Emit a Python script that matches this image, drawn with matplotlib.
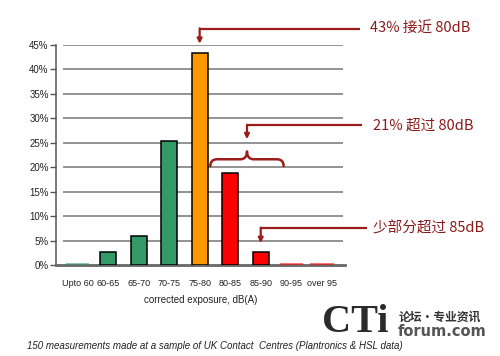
import matplotlib.pyplot as plt
from matplotlib.path import Path
from matplotlib.patches import PathPatch

# --- data ---
categories = ['Upto 60', '60-65', '65-70', '70-75', '75-80',
              '80-85', '85-90', '90-95', 'over 95']
share_pct = [0.5, 2.7, 6.0, 25.3, 43.3, 18.7, 2.7, 0.5, 0.5]
bar_colors = ['#339966', '#339966', '#339966', '#339966', '#FF9900',
              '#FF0000', '#FF0000', '#FF0000', '#FF0000']
y_ticks = [0, 5, 10, 15, 20, 25, 30, 35, 40, 45]
y_tick_labels = [f'{t}%' for t in y_ticks]

note_1 = '43% 接近 80dB'
note_2 = '21% 超过 80dB'
note_3 = '少部分超过 85dB'
x_title = 'corrected exposure, dB(A)'
footnote = '150 measurements made at a sample of UK Contact  Centres (Plantronics & HSL data)'

RED = '#9c1c1c'
TXT_RED = '#8b1a1a'
CJK = ['Noto Sans CJK SC', 'DejaVu Sans']

plt.rcParams['font.family'] = ['Liberation Sans', 'DejaVu Sans']

fig = plt.figure(figsize=(5.0, 3.56), dpi=100)
ax = fig.add_axes([0.112, 0.2556, 0.578, 0.6188])

x = list(range(len(categories)))

# flat (near-zero) bars are drawn wider and paler, without outline
for i, v in enumerate(share_pct):
    if v < 1:
        ax.bar(x[i], v, width=0.77, color=bar_colors[i], alpha=0.55,
               linewidth=0, zorder=4)
    else:
        ax.bar(x[i], v, width=0.52, color=bar_colors[i], edgecolor='black',
               linewidth=1.1, zorder=3)

ax.set_xlim(-0.705, 8.76)
ax.set_ylim(0, 45)

# gridlines start a little right of the axis, like the original
ax.hlines(y_ticks[1:], 0.024, 0.993, transform=ax.get_yaxis_transform(),
          color='#8a8a8a', linewidth=1.3, zorder=1)

ax.spines['top'].set_visible(False)
ax.spines['right'].set_visible(False)
ax.spines['left'].set_color('#555555')
ax.spines['left'].set_linewidth(1.1)
ax.spines['bottom'].set_color('#666666')
ax.spines['bottom'].set_linewidth(2.0)

ax.set_yticks(y_ticks)
ax.set_yticklabels(y_tick_labels, fontsize=7, color='#222222')
ax.tick_params(axis='y', length=4, width=1, color='#555555', pad=1.2)
ax.set_xticks(x)
ax.set_xticklabels(categories, fontsize=6.5, color='#222222')
ax.tick_params(axis='x', length=0, pad=10)
ax.set_xlabel(x_title, fontsize=7, color='#222222', labelpad=5)


# --- callouts ---
def callout(x_tip, y_tip, y_line, x_end, label, x_text):
    ax.plot([x_tip, x_end], [y_line, y_line], color=RED, lw=1.6,
            clip_on=False, solid_capstyle='butt', zorder=5)
    ax.annotate('', xy=(x_tip, y_tip), xytext=(x_tip, y_line + 0.15),
                arrowprops=dict(arrowstyle='-|>', color=RED, lw=1.6,
                                mutation_scale=7, shrinkA=0, shrinkB=0),
                annotation_clip=False, zorder=5)
    ax.text(x_text, y_line, label, color=TXT_RED, fontsize=10.5,
            family=CJK, ha='left', va='center', clip_on=False)


callout(4, 45.2, 48.2, 9.26, note_1, 9.59)
callout(5.55, 25.7, 28.5, 9.32, note_2, 9.69)
callout(6, 4.5, 7.5, 9.48, note_3, 9.69)

# curly brace over the >80 dB bars
bx0, bxm, bx1 = 4.35, 5.55, 6.75
y_end, y_mid, y_peak = 20.2, 21.6, 23.2
d = 0.22
verts = [(bx0, y_end), (bx0, y_mid), (bx0 + d, y_mid),
         (bxm - d, y_mid),
         (bxm, y_mid), (bxm, y_peak),
         (bxm, y_mid), (bxm + d, y_mid),
         (bx1 - d, y_mid),
         (bx1, y_mid), (bx1, y_end)]
codes = [Path.MOVETO, Path.CURVE3, Path.CURVE3,
         Path.LINETO,
         Path.CURVE3, Path.CURVE3,
         Path.CURVE3, Path.CURVE3,
         Path.LINETO,
         Path.CURVE3, Path.CURVE3]
brace = PathPatch(Path(verts, codes), fill=False, edgecolor=RED, lw=1.8,
                  capstyle='round', joinstyle='round', clip_on=False, zorder=5)
ax.add_patch(brace)

# footnote and logo
fig.text(27 / 500, 1 - 346 / 356, footnote, fontsize=7, style='italic',
         color='#222222', ha='left', va='center')
fig.text(322 / 500, 1 - 322 / 356, 'CTi', fontsize=29, weight='bold',
         family=['Liberation Serif'], color='#2a2a2a', ha='left', va='center')
fig.text(399 / 500, 1 - 317 / 356, '论坛·专业资讯', fontsize=8.5, weight='bold',
         family=CJK, color='#333333', ha='left', va='center')
fig.text(398 / 500, 1 - 331 / 356, 'forum.com', fontsize=10.5, weight='bold',
         family=['DejaVu Sans'], color='#555555', ha='left', va='center')

fig.savefig('out.png', dpi=100)
